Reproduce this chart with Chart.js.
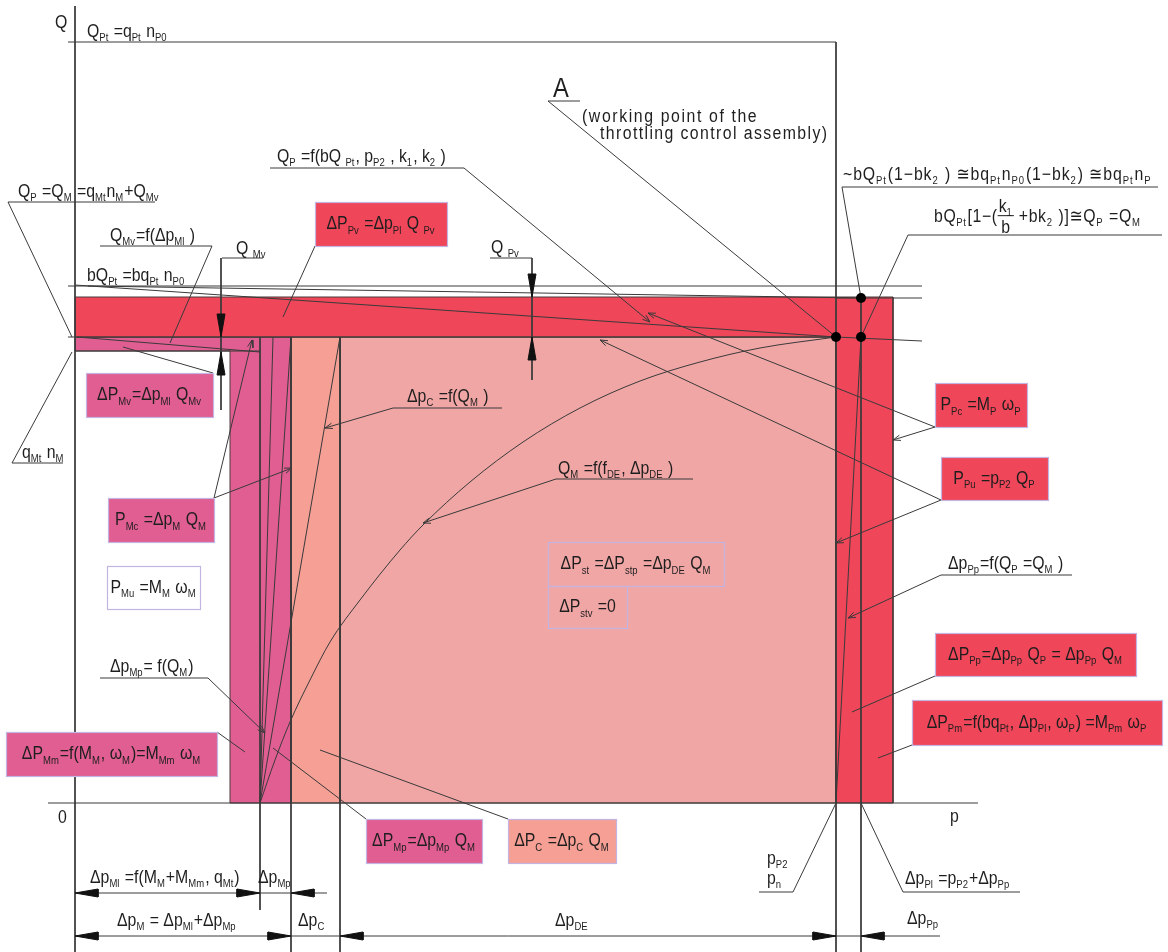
<!DOCTYPE html>
<html>
<head>
<meta charset="utf-8">
<script src="https://cdn.jsdelivr.net/npm/chart.js@4.4.1/dist/chart.umd.min.js"></script>
<style>
    html, body { margin: 0; padding: 0; background: #fff; }
    #wrap { width: 1168px; height: 952px; }
</style>
</head>
<body>
<div id="wrap"><canvas id="diagram" width="1168" height="952"></canvas></div>
<script>
// Power flow diagram of a throttle controlled drive, drawn on a 1:1 linear x / y scale

// filled regions, [x, y] corners
const pumpLossArea = [[75, 297], [893, 297], [893, 803], [836, 803], [836, 337], [75, 337]];
const motorLossArea = [[75, 337], [291, 337], [291, 803], [230, 803], [230, 351], [75, 351]];
const conduitLossArea = [[291, 337], [340, 337], [340, 803], [291, 803]];
const throttleLossArea = [[340, 337], [836, 337], [836, 803], [340, 803]];

// axes and frame
const axisLines = [
    [[75, 6], [75, 952]],
    [[48, 803], [978, 803]],
    [[68, 42], [836, 42]],
    [[836, 42], [836, 952]],
    [[861, 298], [861, 952]],
];

// flow levels
const levelLines = [
    [[68, 286], [922, 286]],
    [[836, 298], [922, 298]],
    [[68, 337], [836, 337]],
    [[836, 337], [922, 341]],
    [[75, 351], [260, 351]],
];

// characteristics
const characteristicLines = [
    [[75, 285], [836, 337]],
    [[88, 286], [861, 298]],
    [[77, 337], [260, 352]],
    [[836, 803], [861, 337]],
    [[260, 803], [340, 337]],
    [[260, 803], [291, 337]],
    [[260, 803], [273, 337]],
];

// Q_M = f(f_DE, dp_DE) curve
const motorFlowCurve = [
    [260, 803], [275, 760], [290, 722], [310, 680], [330, 642], [360, 600], [400, 550],
    [423, 525], [470, 482], [523, 442], [580, 408], [640, 381], [700, 362], [760, 348], [836, 337],
];

const workingPoints = [[861, 298], [836, 337], [861, 337]];

// extension and dimension lines
const dimensionLines = [
    [[260, 337], [260, 910]],
    [[291, 337], [291, 952]],
    [[340, 337], [340, 952]],
    [[221, 258], [221, 410]],
    [[532, 258], [532, 380]],
    [[75, 893], [327, 893]],
    [[75, 936], [940, 936]],
];

// [x, y, direction]
const dimensionArrows = [
    [75, 893, 'l'], [260, 893, 'r'], [291, 893, 'l'],
    [75, 936, 'l'], [291, 936, 'r'], [340, 936, 'l'], [836, 936, 'r'], [861, 936, 'l'],
    [221, 337, 'd'], [221, 352, 'u'], [532, 297, 'd'], [532, 337, 'u'],
];

// text underlines
const underLines = [
    [[8, 202], [155, 202]], [[12, 463], [63, 463]], [[100, 246], [212, 246]],
    [[222, 258], [263, 258]], [[490, 258], [532, 258]], [[270, 168], [464, 168]],
    [[548, 101], [580, 101]], [[842, 187], [1158, 187]], [[908, 235], [1162, 235]],
    [[941, 575], [1072, 575]], [[393, 408], [502, 408]], [[556, 479], [693, 479]],
    [[100, 678], [208, 678]], [[759, 892], [793, 892]], [[903, 892], [1020, 892]],
];

// leaders, [from, to, with tip]
const leaderLines = [
    [[8, 202], [72, 337], false],
    [[12, 463], [72, 352], false],
    [[212, 246], [170, 343], false],
    [[213, 373], [123, 347], false],
    [[315, 246], [283, 317], false],
    [[464, 168], [650, 322], true],
    [[548, 101], [836, 337], false],
    [[842, 187], [861, 298], false],
    [[908, 235], [861, 337], false],
    [[935, 427], [648, 313], true],
    [[935, 427], [893, 440], true],
    [[941, 500], [600, 340], true],
    [[941, 500], [836, 543], true],
    [[941, 575], [848, 618], true],
    [[935, 676], [852, 712], false],
    [[912, 745], [878, 758], false],
    [[393, 408], [325, 428], true],
    [[556, 479], [423, 523], true],
    [[214, 498], [252, 340], true],
    [[214, 498], [292, 468], true],
    [[217, 732], [245, 752], false],
    [[208, 678], [265, 733], true],
    [[366, 819], [273, 748], false],
    [[508, 819], [320, 750], false],
    [[793, 892], [836, 803], false],
    [[903, 892], [861, 803], false],
];

// free texts, left x and baseline y
const freeLabels = [
    {t: 'Q', at: [55, 28]},
    {t: 'Q_{Pt} =q_{Pt} n_{P0}', at: [87, 37]},
    {t: 'Q_{P} =Q_{M} =q_{Mt}n_{M}+Q_{Mv}', at: [18, 197]},
    {t: 'Q_{Mv}=f(Δp_{Ml} )', at: [110, 241]},
    {t: 'Q _{Mv}', at: [236, 254]},
    {t: 'bQ_{Pt} =bq_{Pt} n_{P0}', at: [87, 281]},
    {t: 'q_{Mt} n_{M}', at: [22, 458]},
    {t: 'Q_{P} =f(bQ _{Pt}, p_{P2} , k_{1}, k_{2} )', at: [277, 162]},
    {t: 'Q _{Pv}', at: [491, 253]},
    {t: 'A', at: [553, 97], size: 27},
    {t: '(working point of the', at: [582, 122], sp: 1.6},
    {t: 'throttling control assembly)', at: [600, 139], sp: 1.4},
    {t: '~bQ_{Pt}(1−bk_{2} ) ≅bq_{Pt}n_{P0}(1−bk_{2}) ≅bq_{Pt}n_{P}', at: [843, 180], sp: 0.9},
    {t: 'bQ_{Pt}[1−(«k_{1}|b» +bk_{2} )]≅Q_{P} =Q_{M}', at: [934, 222], sp: 0.6},
    {t: 'Δp_{C} =f(Q_{M} )', at: [407, 402]},
    {t: 'Q_{M} =f(f_{DE}, Δp_{DE} )', at: [558, 474]},
    {t: 'Δp_{Pp}=f(Q_{P} =Q_{M} )', at: [948, 569]},
    {t: 'Δp_{Mp}= f(Q_{M})', at: [110, 672]},
    {t: '0', at: [58, 823]},
    {t: 'p', at: [950, 822]},
    {t: 'Δp_{Ml} =f(M_{M}+M_{Mm}, q_{Mt})', at: [90, 883]},
    {t: 'Δp_{Mp}', at: [258, 883]},
    {t: 'p_{P2}', at: [767, 864]},
    {t: 'p_{n}', at: [767, 884]},
    {t: 'Δp_{Pl} =p_{P2}+Δp_{Pp}', at: [905, 884]},
    {t: 'Δp_{M} = Δp_{Ml}+Δp_{Mp}', at: [117, 926]},
    {t: 'Δp_{C}', at: [298, 926]},
    {t: 'Δp_{DE}', at: [555, 926]},
    {t: 'Δp_{Pp}', at: [907, 924]},
];

// boxed texts, [x1, y1, x2, y2], fill area index
const boxLabels = [
    {t: 'ΔP_{Pv} =Δp_{Pl} Q _{Pv}', box: [315, 202, 447, 246], fill: 0},
    {t: 'ΔP_{Mv}=Δp_{Ml} Q_{Mv}', box: [86, 373, 213, 417], fill: 1},
    {t: 'P_{Mc} =Δp_{M} Q_{M}', box: [108, 498, 214, 542], fill: 1},
    {t: 'P_{Mu} =M_{M} ω_{M}', box: [107, 566, 200, 609], fill: -1},
    {t: 'ΔP_{Mm}=f(M_{M}, ω_{M})=M_{Mm} ω_{M}', box: [6, 732, 217, 776], fill: 1},
    {t: 'ΔP_{Mp}=Δp_{Mp} Q_{M}', box: [366, 819, 482, 863], fill: 1},
    {t: 'ΔP_{C} =Δp_{C} Q_{M}', box: [508, 819, 616, 863], fill: 2},
    {t: 'ΔP_{st} =ΔP_{stp} =Δp_{DE} Q_{M}', box: [548, 542, 724, 586], fill: -2},
    {t: 'ΔP_{stv} =0', box: [548, 586, 627, 628], fill: -2},
    {t: 'P_{Pc} =M_{P} ω_{P}', box: [935, 383, 1027, 427], fill: 0},
    {t: 'P_{Pu} =p_{P2} Q_{P}', box: [941, 457, 1048, 500], fill: 0},
    {t: 'ΔP_{Pp}=Δp_{Pp} Q_{P} = Δp_{Pp} Q_{M}', box: [935, 633, 1136, 676], fill: 0},
    {t: 'ΔP_{Pm}=f(bq_{Pt}, Δp_{Pl}, ω_{P}) =M_{Pm} ω_{P}', box: [912, 700, 1162, 745], fill: 0},
];

const areaColors = ['#ef4659', '#e05e91', '#f59f95', '#f1a6a6'];
const LINE = '#3a3a3a';
const TEXT = '#1e1e1e';
const BOX_EDGE = '#c4b4e2';
const FONT = '"Liberation Sans", "DejaVu Sans", Arial, sans-serif';
const SIZE = 18;
const SQUEEZE = 0.88;

const pt = p => ({x: p[0], y: p[1]});
const datasets = [];
let drawOrder = 1000;

function addPath(points, opts) {
    datasets.push(Object.assign({
        data: points.map(pt),
        showLine: true,
        fill: false,
        borderColor: LINE,
        borderWidth: 1,
        backgroundColor: 'transparent',
        pointRadius: 0,
        tension: 0,
        order: drawOrder--,
    }, opts || {}));
}

function addArea(points, color) {
    addPath(points.concat([points[0]]), {fill: 'shape', backgroundColor: color, borderColor: '#4a3a3a'});
}

function arrowShape(x, y, dir) {
    const len = 23, half = 4;
    if (dir === 'l') return [[x, y], [x + len, y - half], [x + len, y + half], [x, y]];
    if (dir === 'r') return [[x, y], [x - len, y - half], [x - len, y + half], [x, y]];
    if (dir === 'd') return [[x, y], [x - half, y - len], [x + half, y - len], [x, y]];
    return [[x, y], [x - half, y + len], [x + half, y + len], [x, y]];
}

function tipShape(from, to) {
    const a = Math.atan2(from[1] - to[1], from[0] - to[0]);
    const l = 8, s = 0.35;
    return [
        [to[0] + l * Math.cos(a + s), to[1] + l * Math.sin(a + s)],
        to,
        [to[0] + l * Math.cos(a - s), to[1] + l * Math.sin(a - s)],
    ];
}

addArea(throttleLossArea, areaColors[3]);
addArea(conduitLossArea, areaColors[2]);
addArea(motorLossArea, areaColors[1]);
addArea(pumpLossArea, areaColors[0]);

[].concat(levelLines, characteristicLines, axisLines, dimensionLines, underLines).forEach(l => addPath(l));
addPath(motorFlowCurve, {tension: 0.4, cubicInterpolationMode: 'monotone'});

leaderLines.forEach(([a, b, tip]) => {
    addPath([a, b]);
    if (tip) addPath(tipShape(a, b));
});

dimensionArrows.forEach(([x, y, d]) => addPath(arrowShape(x, y, d), {fill: 'shape', backgroundColor: '#111', borderColor: '#111'}));

datasets.push({
    data: workingPoints.map(pt),
    showLine: false,
    pointRadius: 5,
    pointBackgroundColor: '#000',
    pointBorderWidth: 0,
    order: drawOrder--,
});

// text with _{sub} and «num|den»
function richRun(ctx, str, x0, y, size, draw, sp) {
    sp = sp || 0;
    let w = 0, buf = '', i = 0;
    const put = (s, sz, dy) => {
        ctx.font = sz + 'px ' + FONT;
        const parts = sp ? s.split('') : [s];
        parts.forEach(p => {
            const tw = ctx.measureText(p).width * SQUEEZE;
            if (draw) {
                ctx.save();
                ctx.translate(x0 + w, y + dy);
                ctx.scale(SQUEEZE, 1);
                ctx.fillText(p, 0, 0);
                ctx.restore();
            }
            w += tw + sp;
        });
    };
    const flush = () => { if (buf) { put(buf, size, 0); buf = ''; } };
    while (i < str.length) {
        const c = str[i];
        if (c === '_' && str[i + 1] === '{') {
            flush();
            const end = str.indexOf('}', i);
            put(str.slice(i + 2, end), size * 0.6, size * 0.24);
            w += 1;
            i = end + 1;
        } else if (c === '«') {
            flush();
            const end = str.indexOf('»', i);
            const [num, den] = str.slice(i + 1, end).split('|');
            const fs = size;
            const nw = richRun(ctx, num, 0, 0, fs, false);
            const dw = richRun(ctx, den, 0, 0, fs, false);
            const fw = Math.max(nw, dw) + 2;
            if (draw) {
                richRun(ctx, num, x0 + w + (fw - nw) / 2, y - size * 0.55, fs, true);
                richRun(ctx, den, x0 + w + (fw - dw) / 2, y + size * 0.6, fs, true);
                ctx.fillRect(x0 + w, y - size * 0.38, fw, 1);
            }
            w += fw;
            i = end + 1;
        } else {
            buf += c;
            i++;
        }
    }
    flush();
    return w;
}

const labelPlugin = {
    id: 'labels',
    afterDatasetsDraw(chart) {
        const {ctx} = chart;
        const X = v => chart.scales.x.getPixelForValue(v);
        const Y = v => chart.scales.y.getPixelForValue(v);
        ctx.save();
        ctx.textBaseline = 'alphabetic';
        boxLabels.forEach(b => {
            const x1 = X(b.box[0]), y1 = Y(b.box[1]), x2 = X(b.box[2]), y2 = Y(b.box[3]);
            if (b.fill >= 0) {
                ctx.fillStyle = areaColors[b.fill];
                ctx.fillRect(x1, y1, x2 - x1, y2 - y1);
            } else if (b.fill === -1) {
                ctx.fillStyle = '#fff';
                ctx.fillRect(x1, y1, x2 - x1, y2 - y1);
            }
            ctx.strokeStyle = BOX_EDGE;
            ctx.lineWidth = 1.2;
            ctx.strokeRect(x1 + 0.5, y1 + 0.5, x2 - x1, y2 - y1);
            ctx.fillStyle = TEXT;
            const w = richRun(ctx, b.t, 0, 0, SIZE, false);
            richRun(ctx, b.t, (x1 + x2) / 2 - w / 2, (y1 + y2) / 2 + SIZE * 0.3, SIZE, true);
        });
        ctx.fillStyle = TEXT;
        freeLabels.forEach(l => richRun(ctx, l.t, X(l.at[0]), Y(l.at[1]), l.size || SIZE, true, l.sp));
        ctx.restore();
    }
};

new Chart(document.getElementById('diagram').getContext('2d'), {
    type: 'line',
    data: {datasets: datasets},
    options: {
        responsive: false,
        animation: false,
        events: [],
        layout: {padding: 0, autoPadding: false},
        scales: {
            x: {type: 'linear', min: 0, max: 1168, display: false},
            y: {type: 'linear', min: 0, max: 952, reverse: true, display: false},
        },
        plugins: {
            legend: {display: false},
            tooltip: {enabled: false},
        },
    },
    plugins: [labelPlugin],
});
</script>
</body>
</html>
